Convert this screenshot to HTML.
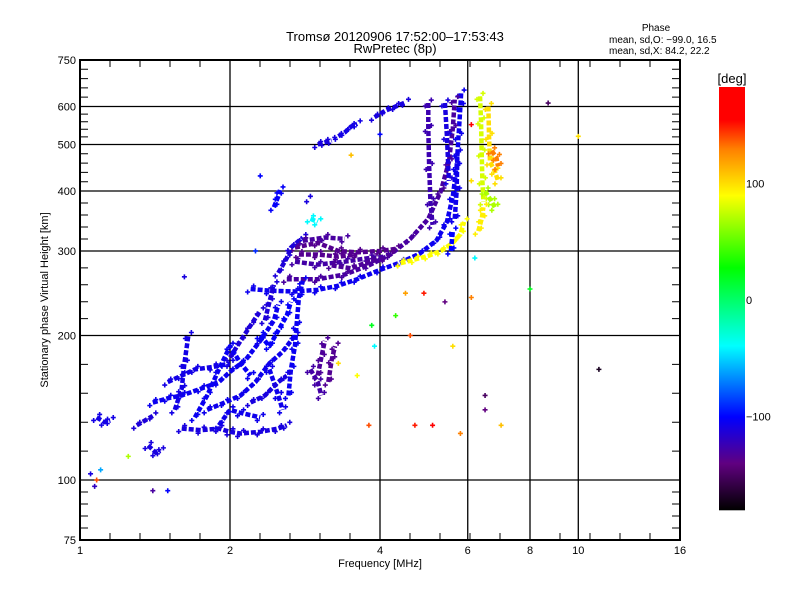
<!DOCTYPE html>
<html><head><meta charset="utf-8"><style>
body{margin:0;background:#fff;width:800px;height:600px;overflow:hidden}
svg{display:block;font-family:"Liberation Sans","DejaVu Sans",sans-serif}
</style></head><body>
<svg id="chart" width="800" height="600" viewBox="0 0 800 600" xmlns="http://www.w3.org/2000/svg">
<text x="395" y="41" font-size="13" text-anchor="middle">Tromsø 20120906 17:52:00–17:53:43</text>
<text x="395" y="53" font-size="13" text-anchor="middle">RwPretec (8p)</text>
<text x="656" y="31" font-size="10" text-anchor="middle">Phase</text>
<text x="609" y="43" font-size="10">mean, sd,O: −99.0, 16.5</text>
<text x="609" y="54" font-size="10">mean, sd,X:  84.2, 22.2</text>
<text x="380" y="567" font-size="11" text-anchor="middle">Frequency [MHz]</text>
<text transform="translate(48,300) rotate(-90)" font-size="11" text-anchor="middle">Stationary phase Virtual Height [km]</text>
<g id="grid"></g>
<g id="marks"></g>
<g id="axes"></g>
<g id="cbar"></g>
</svg>
<script>
const xTicks=[1,2,4,6,8,10,16];
const xTickLabels=["1","2","4","6","8","10","16"];
const yTicks=[75,100,200,300,400,500,600,750];
const yTickLabels=["75","100","200","300","400","500","600","750"];
const xGrid=[2,4,6,8,10];
const yGrid=[100,200,300,400,500,600];
const cbarTicks=[100,0,-100];
const tracePhases=[-105,-130,-135,-128,-112,-110,-108,-125,-110,90,80,100,70,130,-110,-105,-108,-106,-112,-104,-132,-134,-110,-108,-112,-106,-102,-110,-40,
-108,-104,-110,-106,-102,-135,-130,-132,-128,-106,-100,-112,95];
const tracePoints=[
[[2.2,250],[2.4,248],[2.7,247],[3.0,249],[3.3,254],[3.6,262],[4.0,274],[4.4,284],[4.8,296],[5.2,316],[5.45,345],[5.6,390],[5.7,450],[5.75,520],[5.8,600],[5.82,640]],
[[2.6,262],[3.0,262],[3.4,268],[3.8,280],[4.2,295],[4.6,318],[5.0,350],[5.3,400],[5.5,460],[5.6,540],[5.65,620]],
[[2.7,305],[3.0,312],[3.3,300],[3.6,298],[4.0,300],[4.3,303]],
[[2.7,285],[3.0,281],[3.4,285],[3.8,290],[4.1,292]],
[[2.5,270],[2.6,290],[2.65,305],[2.8,320]],
[[3.0,500],[3.1,505],[3.2,510]],
[[3.3,520],[3.4,530],[3.5,545],[3.6,552]],
[[5.0,610],[5.0,540],[5.02,450],[5.05,380],[5.1,340]],
[[3.9,570],[4.1,588],[4.3,600],[4.5,612]],
[[4.4,283],[4.7,288],[5.0,293],[5.3,300],[5.6,312],[5.8,325],[5.9,345]],
[[6.35,630],[6.38,560],[6.4,480],[6.42,420],[6.45,380]],
[[6.6,600],[6.62,520],[6.65,460],[6.8,440],[6.9,420]],
[[6.5,400],[6.7,380],[6.8,370]],
[[6.7,485],[6.85,470],[6.9,450]],
[[1.6,128],[1.75,127],[1.9,128],[2.0,126],[2.1,125],[2.3,126],[2.5,128],[2.6,130]],
[[1.4,145],[1.5,148],[1.6,150],[1.75,155],[1.9,160],[2.0,168],[2.15,178],[2.3,195],[2.45,215],[2.5,232]],
[[1.55,140],[1.6,155],[1.62,175],[1.65,200]],
[[1.8,140],[1.95,145],[2.1,150],[2.25,160],[2.4,175],[2.55,185],[2.7,200]],
[[2.0,180],[2.1,195],[2.2,210],[2.3,225]],
[[2.62,150],[2.65,170],[2.7,190],[2.72,210],[2.75,240],[2.8,260]],
[[3.0,165],[3.05,180],[3.1,195]],
[[3.15,160],[3.2,178],[3.25,190]],
[[1.37,118],[1.42,114],[1.45,115]],
[[1.08,135],[1.12,132],[1.15,133]],
[[1.3,130],[1.4,136]],
[[2.4,170],[2.5,150],[2.55,140]],
[[2.45,370],[2.5,390],[2.52,402]],
[[5.4,610],[5.45,520],[5.5,420]],
[[2.9,350],[3.0,345]],
[[1.5,160],[1.6,165],[1.7,170],[1.85,172],[2.0,175]],
[[1.7,135],[1.8,150],[1.9,170],[2.0,190],[2.1,175],[2.2,165]],
[[2.2,145],[2.35,150],[2.5,160],[2.6,165]],
[[1.9,130],[2.0,140],[2.1,138],[2.3,135]],
[[2.3,200],[2.4,190],[2.5,205],[2.6,220],[2.65,235]],
[[2.75,295],[3.0,295],[3.3,292],[3.6,295]],
[[2.8,315],[3.1,320],[3.4,318]],
[[3.2,280],[3.5,276],[3.8,285],[4.1,290]],
[[2.9,170],[3.0,160],[3.05,150]],
[[5.65,350],[5.7,400],[5.72,480]],
[[5.55,300],[5.6,330]],
[[2.35,215],[2.4,235],[2.45,255]],
[[6.3,330],[6.4,350],[6.45,370]]
];
const dotFreq=[1.05,1.07,1.08,1.1,1.4,1.5,1.62,4.7,5.1,5.8,3.8,4.9,4.3,3.3,3.6,7.0,6.5,6.5,8.7,10,8,11,6.2,6.1,5.6,3.85,3.9,4.6,4.5,5.4,2.9,2.85,2.3,3.5,4.0,6.1,6.1,2.25,1.25];
const dotHeight=[103,97,100,105,95,95,265,130,130,125,130,245,220,175,165,130,140,150,610,520,250,170,290,240,190,210,190,200,245,235,390,380,430,475,525,550,420,300,112];
const dotPhase=[-110,-120,140,-60,-130,-100,-110,150,160,130,140,150,40,100,90,110,-140,-150,-150,100,20,-170,-40,130,100,20,-40,140,120,-140,-110,-110,-100,110,-100,170,100,-90,70];

const L=80,R=680,T=60,B=540;
const xs=f=>L+150*Math.log2(f);
const ys=h=>480-480*Math.log10(h/100);
const stops=[[-180,[0,0,0]],[-140,[96,0,128]],[-100,[0,0,255]],[-39,[0,255,255]],[28,[0,255,0]],[90,[255,255,0]],[130,[255,128,0]],[155,[255,0,0]],[185,[255,0,0]]];
function col(v){for(let i=0;i<stops.length-1;i++){const a=stops[i],b=stops[i+1];if(v<=b[0]){const t=Math.max(0,(v-a[0])/(b[0]-a[0]));return 'rgb('+a[1].map((c,k)=>Math.round(c+(b[1][k]-c)*t)).join(',')+')';}}return 'rgb(255,0,0)';}
const NS='http://www.w3.org/2000/svg';
function mk(tag,attrs,parent){const e=document.createElementNS(NS,tag);for(const k in attrs)e.setAttribute(k,attrs[k]);parent.appendChild(e);return e;}
const grid=document.getElementById('grid'),marks=document.getElementById('marks'),axes=document.getElementById('axes'),cb=document.getElementById('cbar');
xGrid.forEach(f=>{const l=mk('line',{x1:xs(f),x2:xs(f),y1:T,y2:B,stroke:'#000','stroke-width':1.3},grid);

});
yGrid.forEach(h=>{const l=mk('line',{x1:L,x2:R,y1:ys(h),y2:ys(h),stroke:'#000','stroke-width':1.3},grid);

});
function cross(x,y,c){const p=mk('path',{d:`M${x-2.5},${y}h5M${x},${y-2.5}v5`,stroke:c,'stroke-width':1.6,fill:'none'},marks);

}
tracePoints.forEach((pts,i)=>{const c=col(tracePhases[i]);
const pl=mk('polyline',{points:pts.map(p=>xs(p[0])+','+ys(p[1])).join(' '),stroke:c,'stroke-width':4.5,fill:'none','stroke-dasharray':'5 2','stroke-linejoin':'round'},marks);


pts.forEach(p=>{cross(xs(p[0])+3,ys(p[1])-3,c);cross(xs(p[0])-3,ys(p[1])+3,c);});});
dotFreq.forEach((f,i)=>cross(xs(f),ys(dotHeight[i]),col(dotPhase[i])));
const fr=mk('rect',{x:L,y:T,width:R-L,height:B-T,fill:'none',stroke:'#000','stroke-width':2},axes);


for(let k=0;k<=20;k++){const x=L+30*k;mk('path',{d:`M${x},${B}v-7M${x},${T}v7`,stroke:'#000','stroke-width':1},axes);}
xTicks.forEach((f,i)=>{const t=mk('text',{x:xs(f),y:554,'font-size':11,'text-anchor':'middle'},axes);t.textContent=xTickLabels[i];

});
for(let i=0;i<yTicks.length-1;i++){const a=ys(yTicks[i]),b=ys(yTicks[i+1]);for(let k=1;k<5;k++){const y=a+(b-a)*k/5;mk('path',{d:`M${L},${y}h8M${R},${y}h-8`,stroke:'#000','stroke-width':1},axes);}}
yTicks.forEach((h,i)=>{const t=mk('text',{x:76,y:ys(h)+4,'font-size':11,'text-anchor':'end'},axes);t.textContent=yTickLabels[i];

});
const cy=v=>300-1.165*v;
for(let y=87;y<510;y++){const v=(300-y)/1.165;mk('rect',{x:719,y:y,width:26,height:1.3,fill:col(v)},cb);}
const ct=mk('text',{x:732,y:83,'font-size':13,'text-anchor':'middle'},cb);ct.textContent='[deg]';


cbarTicks.forEach(v=>{const t=mk('text',{x:746,y:cy(v)+4,'font-size':11},cb);t.textContent=v<0?'−'+(-v):String(v);

});
</script>
</body></html>
